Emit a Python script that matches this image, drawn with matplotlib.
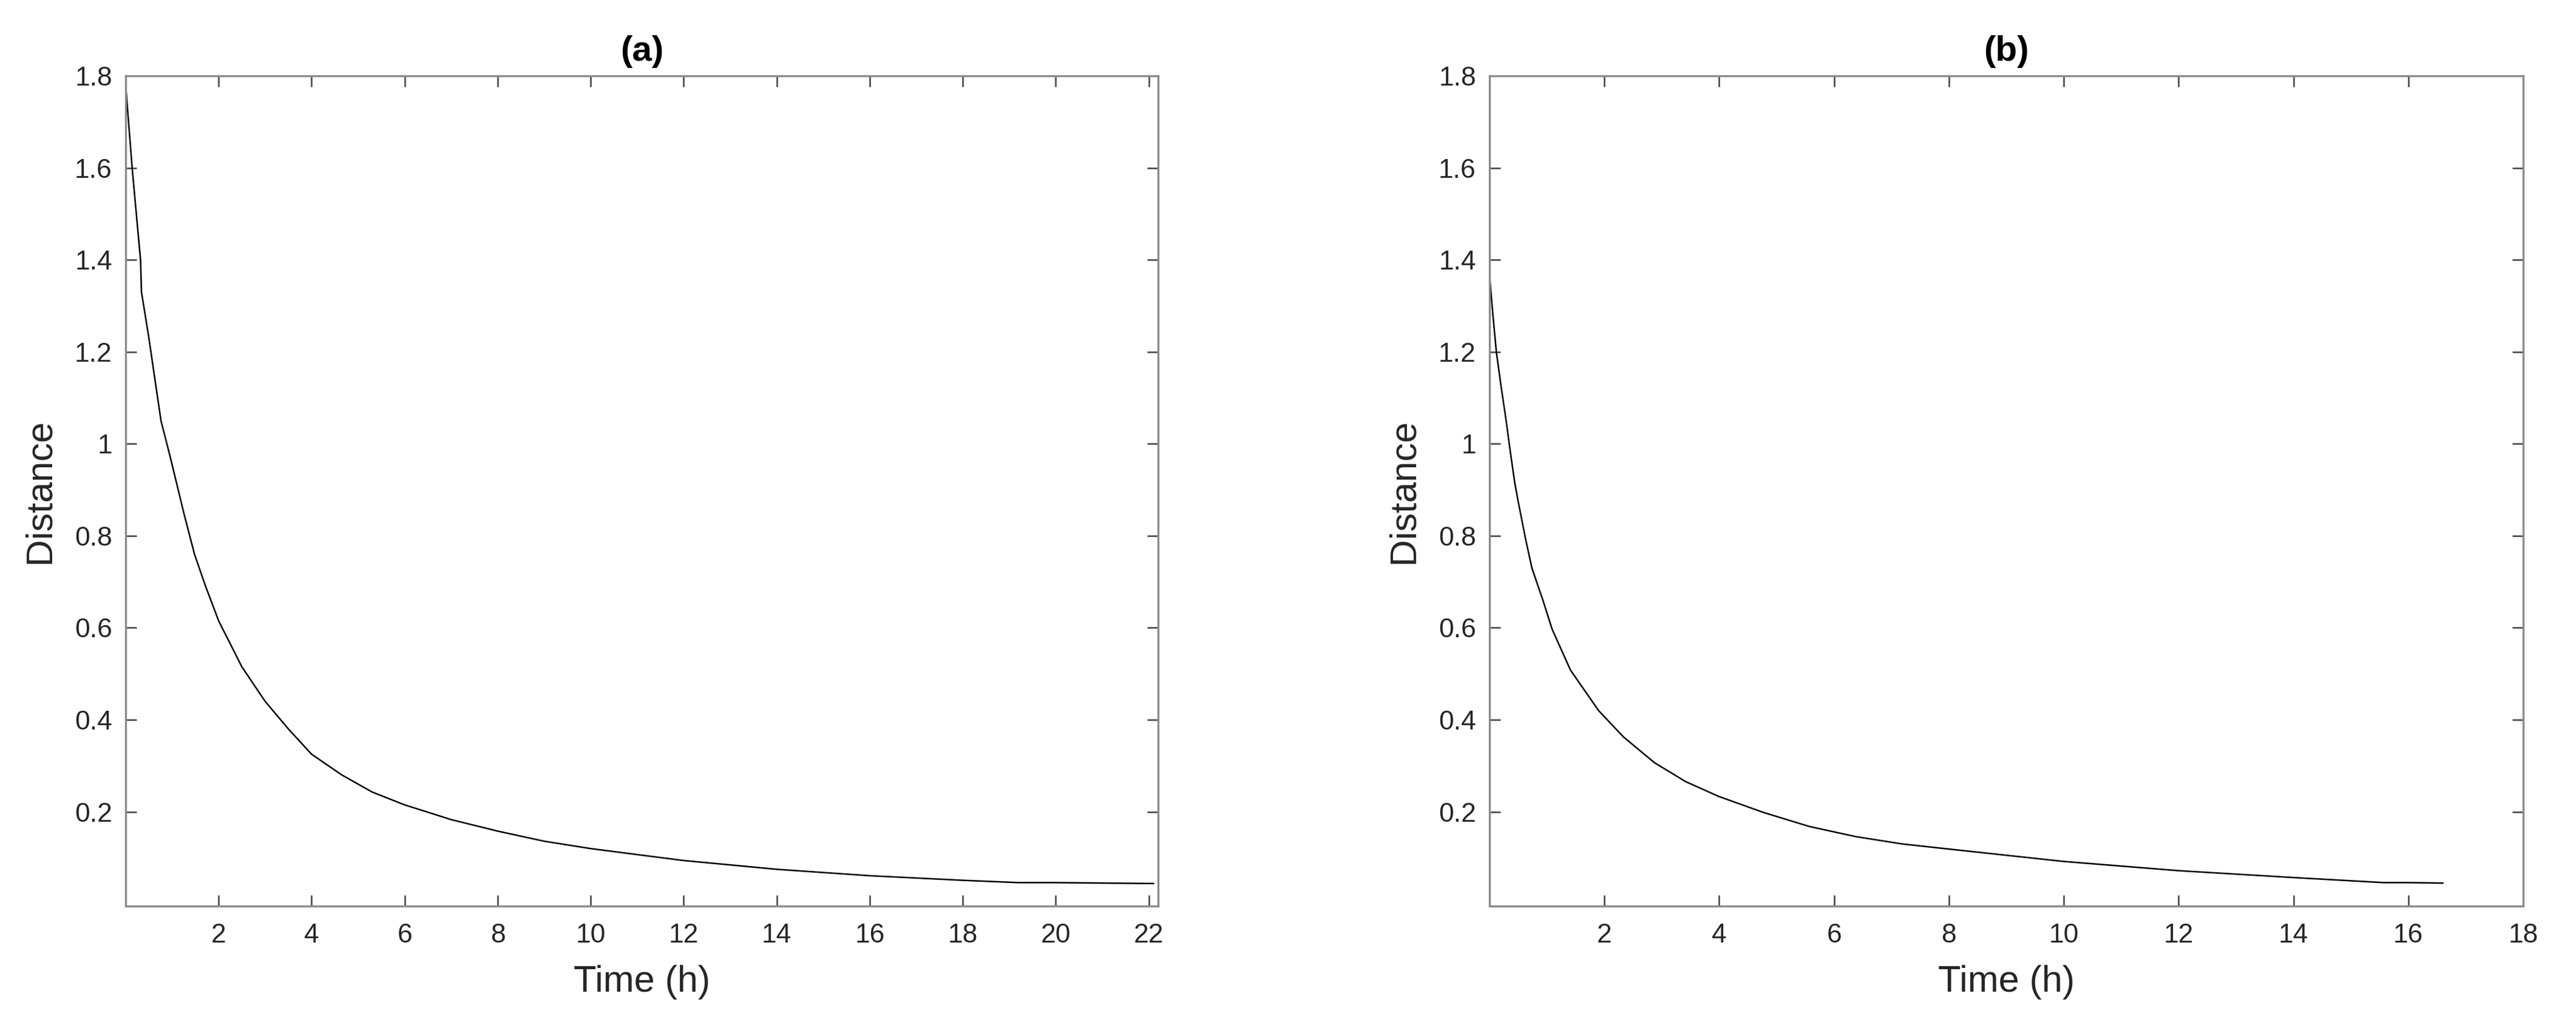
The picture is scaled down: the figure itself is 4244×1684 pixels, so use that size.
import matplotlib
matplotlib.use("Agg")
import matplotlib.pyplot as plt

# ---- data ----
time_a = [0.0, 0.14, 0.32, 0.34, 0.50, 0.76, 0.95, 1.25, 1.48, 1.72, 2.0, 2.5, 3.0,
          3.5, 4.0, 4.65, 5.3, 6.0, 7.0, 8.0, 9.0, 10.0, 12.0, 14.0, 16.0, 18.0,
          19.2, 20.0, 22.1]
dist_a = [1.78, 1.60, 1.40, 1.33, 1.23, 1.05, 0.975, 0.85, 0.76, 0.69, 0.615, 0.515,
          0.44, 0.38, 0.325, 0.28, 0.243, 0.215, 0.183, 0.158, 0.136, 0.120, 0.094,
          0.075, 0.061, 0.051, 0.046, 0.046, 0.044]

time_b = [0.0, 0.06, 0.12, 0.20, 0.29, 0.36, 0.44, 0.50, 0.63, 0.74, 0.93, 1.09, 1.41,
          1.90, 2.33, 2.87, 3.41, 3.98, 4.76, 5.57, 6.38, 7.19, 8.0, 10.0, 12.0, 14.0,
          15.57, 16.0, 16.6]
dist_b = [1.367, 1.279, 1.199, 1.126, 1.05, 0.985, 0.915, 0.874, 0.792, 0.729, 0.660,
          0.597, 0.508, 0.420, 0.363, 0.307, 0.266, 0.234, 0.199, 0.168, 0.146, 0.130,
          0.119, 0.092, 0.072, 0.057, 0.046, 0.046, 0.045]

titles = ["(a)", "(b)"]
xlims = [22.2, 18]
xticks_a = [2, 4, 6, 8, 10, 12, 14, 16, 18, 20, 22]
xticks_b = [2, 4, 6, 8, 10, 12, 14, 16, 18]
yticks = [0.2, 0.4, 0.6, 0.8, 1.0, 1.2, 1.4, 1.6, 1.8]
ytick_labels = ["0.2", "0.4", "0.6", "0.8", "1", "1.2", "1.4", "1.6", "1.8"]

plt.rcParams['font.family'] = ['Liberation Sans', 'DejaVu Sans']

W, H, DPI = 4244, 1684, 200
fig = plt.figure(figsize=(W / DPI, H / DPI), dpi=DPI)

def px_axes(l, r, t, b):
    return fig.add_axes([l / W, 1 - b / H, (r - l) / W, (b - t) / H])

ax_a = px_axes(207, 1908, 125, 1493)
ax_b = px_axes(2454, 4157, 125, 1493)

spine_col = '#8a8a8a'
text_col = '#262626'

for ax, t, d, ttl, xl, xt in [(ax_a, time_a, dist_a, titles[0], xlims[0], xticks_a),
                               (ax_b, time_b, dist_b, titles[1], xlims[1], xticks_b)]:
    ax.plot(t, d, color='black', linewidth=0.9)
    ax.set_xlim(0, xl)
    ax.set_ylim(-0.005, 1.8)
    ax.set_xticks(xt)
    ax.set_xticklabels([str(v) for v in xt])
    ax.set_yticks(yticks)
    ax.set_yticklabels(ytick_labels)
    for s in ax.spines.values():
        s.set_color(spine_col)
        s.set_linewidth(1.2)
    ax.tick_params(direction='in', top=True, right=True, length=6.5, width=0.9,
                   color='#404040', labelcolor=text_col, labelsize=16)
    ax.tick_params(axis='y', pad=8)
    ax.tick_params(axis='x', pad=10)
    ax.set_xlabel("Time (h)", fontsize=22, color=text_col)
    ax.set_ylabel("Distance", fontsize=22, color=text_col)
    ax.xaxis.set_label_coords(0.5, -0.071)
    ax.yaxis.set_label_coords(-0.066, 0.5)
    ax.text(0.5, 1.029, ttl, transform=ax.transAxes, ha='center', va='center',
            fontsize=21, fontweight='bold', color='black')

fig.savefig("out.png", dpi=DPI, facecolor='white')
